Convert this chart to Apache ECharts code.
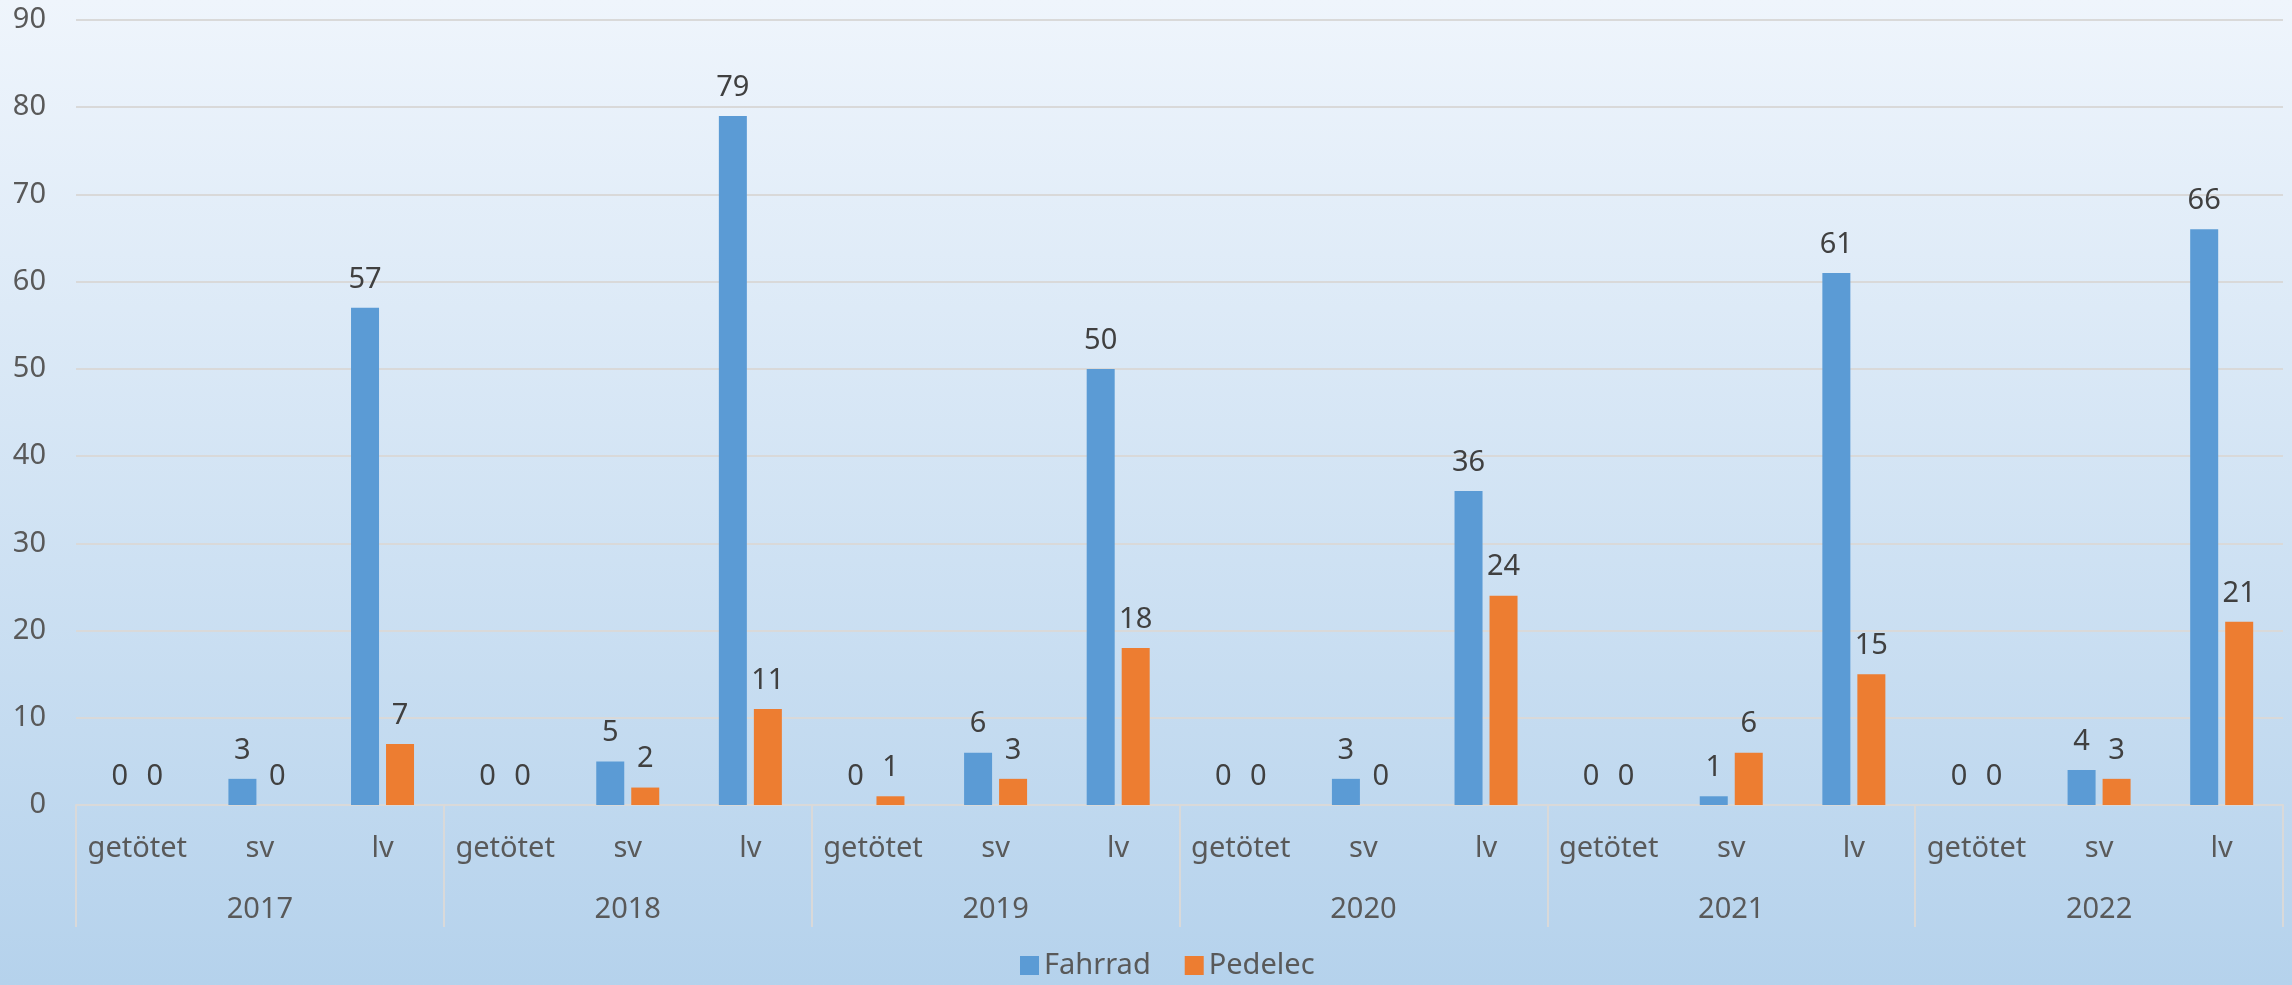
<!DOCTYPE html>
<html>
<head>
<meta charset="utf-8">
<script src="https://cdn.jsdelivr.net/npm/echarts@6/dist/echarts.min.js"></script>
<style>
html,body{margin:0;padding:0;width:2292px;height:985px;overflow:hidden;}
#c{width:2292px;height:985px;}
</style>
</head>
<body>
<div id="c"></div>
<script>
var years = ['2017', '2018', '2019', '2020', '2021', '2022'];
var subCats = ['getötet', 'sv', 'lv'];
var fahrrad = [0, 3, 57, 0, 5, 79, 0, 6, 50, 0, 3, 36, 0, 1, 61, 0, 4, 66];
var pedelec = [0, 0, 7, 0, 2, 11, 1, 3, 18, 0, 0, 24, 0, 6, 15, 0, 3, 21];
var yTicks = {min: 0, max: 90, interval: 10};

var categories = [];
years.forEach(function () { subCats.forEach(function (s) { categories.push(s); }); });

var font = 'Noto Sans';
var fs = 29;
var chart = echarts.init(document.getElementById('c'), null, {renderer: 'canvas'});
chart.setOption({
  backgroundColor: {
    type: 'linear', x: 0, y: 0, x2: 0, y2: 1,
    colorStops: [{offset: 0, color: '#eff5fc'}, {offset: 1, color: '#b5d2ec'}]
  },
  textStyle: {fontFamily: font},
  grid: {left: 76, right: 9, top: 20, bottom: 180},
  legend: {
    bottom: 0, left: 1015,
    itemWidth: 19, itemHeight: 19, itemGap: 34,
    icon: 'rect',
    textStyle: {fontFamily: font, fontSize: fs, color: '#595959'},
    data: ['Fahrrad', 'Pedelec']
  },
  xAxis: [{
    type: 'category', data: categories, position: 'bottom',
    axisLine: {lineStyle: {color: '#d9d9d9', width: 2}},
    axisTick: {show: false},
    axisLabel: {interval: 0, margin: 29, fontFamily: font, fontSize: fs, color: '#595959'}
  }, {
    type: 'category', data: years, position: 'bottom',
    axisLine: {show: false},
    axisTick: {show: true, length: 122, interval: 0, lineStyle: {color: '#d9d9d9', width: 2}},
    axisLabel: {interval: 0, margin: 90, fontFamily: font, fontSize: fs, color: '#595959'}
  }],
  yAxis: {
    type: 'value', min: yTicks.min, max: yTicks.max, interval: yTicks.interval,
    axisLine: {show: false}, axisTick: {show: false},
    splitLine: {lineStyle: {color: '#d9d9d9', width: 2}},
    axisLabel: {margin: 30, fontFamily: font, fontSize: fs, color: '#595959'}
  },
  series: [{
    name: 'Fahrrad', type: 'bar', xAxisIndex: 0, data: fahrrad,
    barWidth: 28, barGap: '25%',
    itemStyle: {color: '#5b9bd5'},
    label: {show: true, position: 'top', distance: 14, fontFamily: font, fontSize: fs, color: '#404040'}
  }, {
    name: 'Pedelec', type: 'bar', xAxisIndex: 0, data: pedelec,
    barWidth: 28, barGap: '25%',
    itemStyle: {color: '#ed7d31'},
    label: {show: true, position: 'top', distance: 14, fontFamily: font, fontSize: fs, color: '#404040'}
  }],
  animation: false
});
</script>
</body>
</html>
